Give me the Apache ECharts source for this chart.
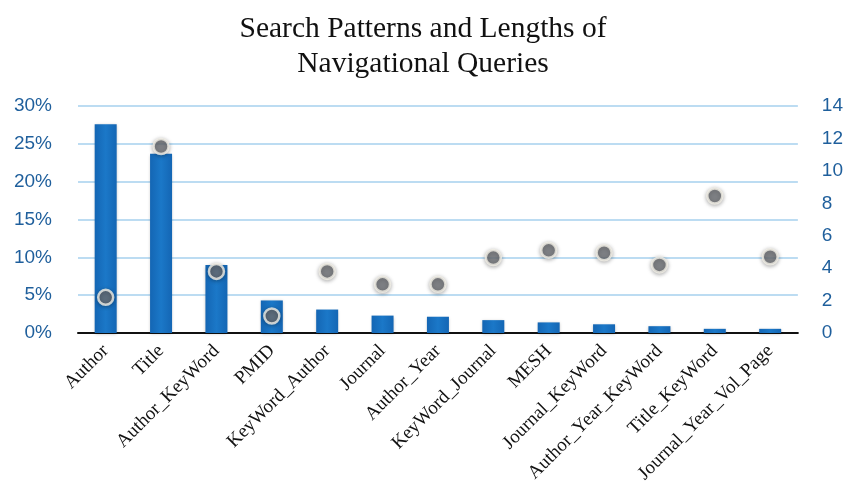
<!DOCTYPE html>
<html><head><meta charset="utf-8">
<script src="https://cdn.jsdelivr.net/npm/echarts@6/dist/echarts.min.js"></script>
<style>html,body{margin:0;padding:0;background:#fff}#c{width:846px;height:492px}</style>
</head><body><div id="c"></div>
<script>
var categories = ["Author","Title","Author_KeyWord","PMID","KeyWord_Author","Journal","Author_Year","KeyWord_Journal","MESH","Journal_KeyWord","Author_Year_KeyWord","Title_KeyWord","Journal_Year_Vol_Page"];
var sharePct = [27.6,23.7,9.0,4.3,3.1,2.3,2.15,1.7,1.4,1.15,0.9,0.55,0.55];
var queryLength = [2.2,11.5,3.8,1.05,3.8,3.0,3.0,4.65,5.1,4.95,4.2,8.45,4.7];
var leftTicks = {min:0,max:30,interval:5};
var rightTicks = {min:0,max:14,interval:2};

var chart = echarts.init(document.getElementById('c'));
chart.setOption({
  animation:false,
  title:{text:'Search Patterns and Lengths of\nNavigational Queries',left:'center',top:7,
    textStyle:{fontFamily:'Liberation Serif',fontSize:29.5,fontWeight:'normal',color:'#111',lineHeight:35}},
  grid:{left:78,right:48,top:106,bottom:159},
  xAxis:{type:'category',data:categories,
    axisLine:{lineStyle:{color:'#111',width:2}},axisTick:{show:false},
    axisLabel:{rotate:45,interval:0,fontFamily:'Liberation Serif',fontSize:19,color:'#111',margin:15}},
  yAxis:[
    {type:'value',min:leftTicks.min,max:leftTicks.max,interval:leftTicks.interval,position:'left',
     axisLabel:{formatter:'{value}%',fontFamily:'Liberation Sans',fontSize:19,color:'#1f5f9c',margin:26},
     axisLine:{show:false},axisTick:{show:false},
     splitLine:{lineStyle:{color:'#bcdcf2',width:2}}},
    {type:'value',min:rightTicks.min,max:rightTicks.max,interval:rightTicks.interval,position:'right',
     axisLabel:{fontFamily:'Liberation Sans',fontSize:19,color:'#1f5f9c',margin:24},
     axisLine:{show:false},axisTick:{show:false},splitLine:{show:false}}
  ],
  series:[
    {type:'bar',data:sharePct,yAxisIndex:0,barWidth:22,
     itemStyle:{color:new echarts.graphic.LinearGradient(0,0,1,0,[{offset:0,color:'#1466b4'},{offset:0.5,color:'#1b78c8'},{offset:1,color:'#1466b4'}]),
       shadowColor:'rgba(0,0,0,0.25)',shadowBlur:3,shadowOffsetY:1}},
    {type:'scatter',data:queryLength,yAxisIndex:1,symbolSize:15,z:5,
     itemStyle:{color:'#6e7075',borderColor:'#f1efe6',borderWidth:2.5,shadowColor:'rgba(0,0,0,0.35)',shadowBlur:4,shadowOffsetY:1}}
  ]
});
</script></body></html>
